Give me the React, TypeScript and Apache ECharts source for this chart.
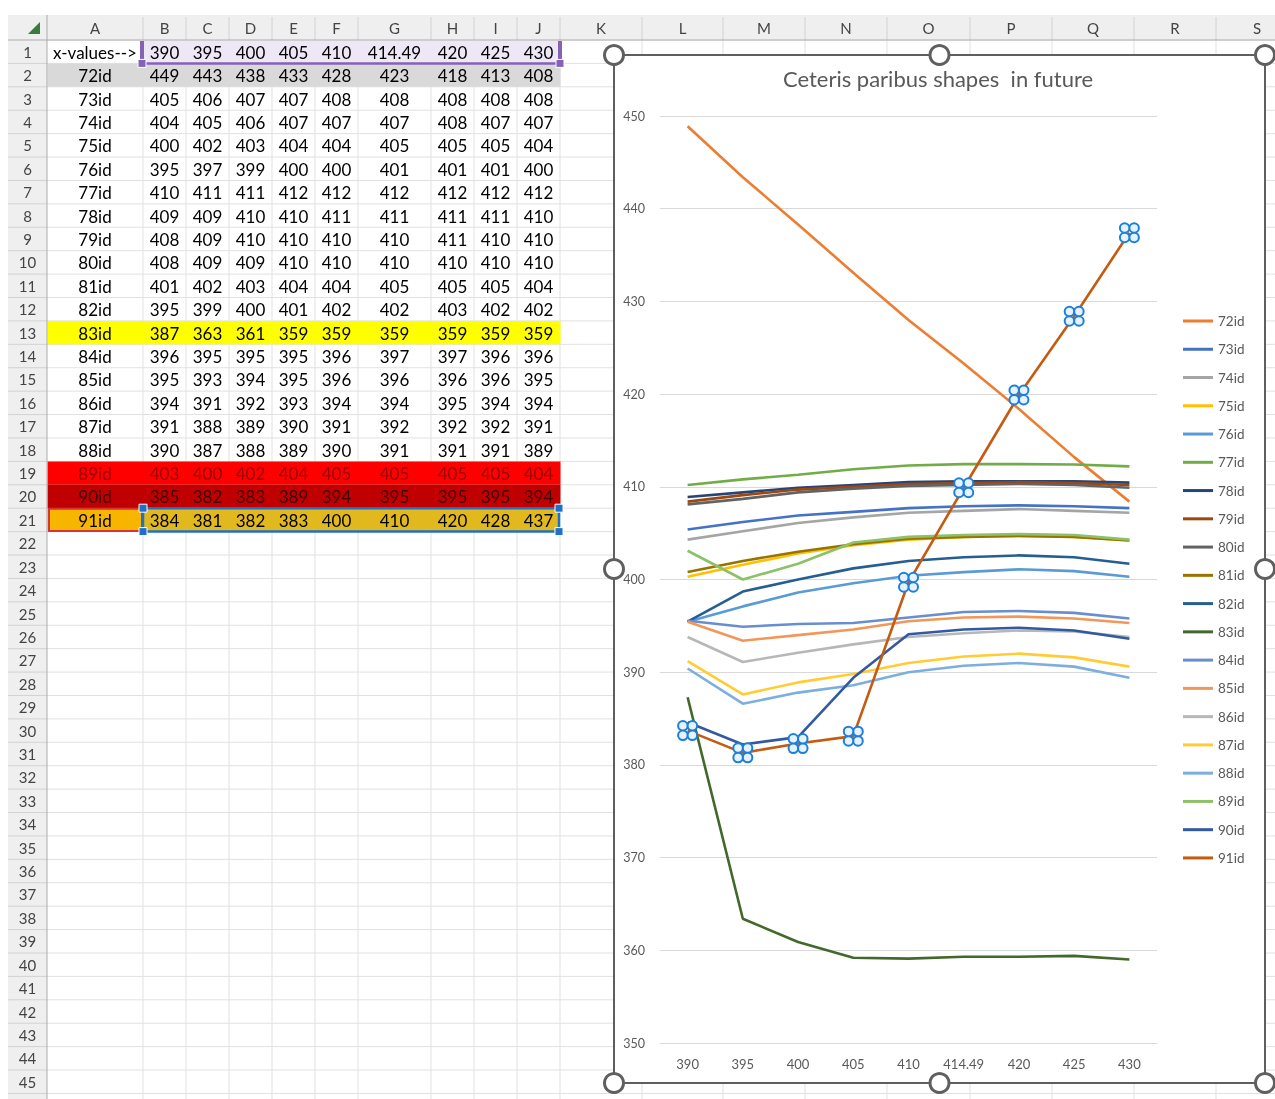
import React, { useEffect, useRef } from 'react';
import * as echarts from 'echarts';

// ---------- data ----------
const xValues = ['390', '395', '400', '405', '410', '414.49', '420', '425', '430'];
const seriesNames = ['72id', '73id', '74id', '75id', '76id', '77id', '78id', '79id', '80id', '81id',
  '82id', '83id', '84id', '85id', '86id', '87id', '88id', '89id', '90id', '91id'];

const v72 = [448.9, 443.4, 438.3, 433.1, 428.0, 423.3, 418.4, 413.2, 408.4];
const v73 = [405.4, 406.2, 406.9, 407.3, 407.7, 407.9, 408.0, 407.9, 407.7];
const v74 = [404.3, 405.2, 406.1, 406.7, 407.2, 407.4, 407.6, 407.4, 407.2];
const v75 = [400.3, 401.6, 402.8, 403.7, 404.3, 404.6, 404.7, 404.6, 404.2];
const v76 = [395.45, 397.1, 398.6, 399.6, 400.4, 400.8, 401.1, 400.9, 400.3];
const v77 = [410.2, 410.8, 411.3, 411.9, 412.3, 412.45, 412.45, 412.4, 412.2];
const v78 = [408.9, 409.4, 409.9, 410.2, 410.5, 410.6, 410.6, 410.6, 410.45];
const v79 = [408.4, 409.1, 409.7, 410.0, 410.3, 410.4, 410.5, 410.4, 410.2];
const v80 = [408.1, 408.7, 409.4, 409.8, 410.1, 410.2, 410.3, 410.2, 409.9];
const v81 = [400.8, 402.0, 403.0, 403.8, 404.4, 404.6, 404.7, 404.6, 404.2];
const v82 = [395.45, 398.7, 400.0, 401.2, 402.0, 402.4, 402.6, 402.4, 401.7];
const v83 = [387.3, 363.4, 360.9, 359.2, 359.1, 359.3, 359.3, 359.4, 359.0];
const v84 = [395.55, 394.9, 395.2, 395.3, 395.9, 396.5, 396.6, 396.4, 395.8];
const v85 = [395.45, 393.4, 394.0, 394.6, 395.5, 395.9, 396.0, 395.8, 395.3];
const v86 = [393.8, 391.1, 392.1, 393.0, 393.8, 394.2, 394.5, 394.4, 393.8];
const v87 = [391.2, 387.6, 388.9, 389.8, 391.0, 391.7, 392.0, 391.6, 390.6];
const v88 = [390.4, 386.6, 387.8, 388.6, 390.0, 390.7, 391.0, 390.6, 389.4];
const v89 = [403.1, 400.0, 401.7, 404.0, 404.6, 404.8, 404.9, 404.8, 404.3];
const v90 = [384.6, 382.2, 383.0, 389.4, 394.1, 394.6, 394.8, 394.5, 393.6];
const v91 = [383.7, 381.3, 382.3, 383.1, 399.7, 409.9, 419.9, 428.4, 437.4];

const seriesValues = [v72, v73, v74, v75, v76, v77, v78, v79, v80, v81,
  v82, v83, v84, v85, v86, v87, v88, v89, v90, v91];

const seriesColors = ['#ED7D31', '#4472C4', '#A5A5A5', '#FFC000', '#5B9BD5', '#70AD47', '#264478',
  '#9E480E', '#636363', '#997300', '#255E91', '#43682B', '#698ED0', '#F1975A', '#B7B7B7',
  '#FFCD33', '#7CAFDD', '#8CC168', '#335AA1', '#C55A11'];

const chartTitle = 'Ceteris paribus shapes  in future';
const headerLabel = 'x-values-->';
const colLetters = ['A', 'B', 'C', 'D', 'E', 'F', 'G', 'H', 'I', 'J', 'K', 'L', 'M', 'N', 'O', 'P', 'Q', 'R', 'S'];
const rowCount = 45;

// row fills of the sheet (row number -> colour), columns A..J
const rowFills: Record<number, string> = { 2: '#D9D9D9', 13: '#FFFF00', 19: '#FF0000', 20: '#C00000' };
const rowTextColors: Record<number, string> = { 19: '#960000', 20: '#3E0000' };

// ---------- layout ----------
const W = 1275;
const H = 1099;
const colEdges = [47, 143, 186, 229, 272, 315, 358, 431, 474, 517, 560, 642, 723, 805, 887, 970, 1052, 1134, 1216, 1298];
const ROW_H = 23.41;
const HEAD_TOP = 15;
const HEAD_BOT = 40;
const ROWHEAD_LEFT = 8;
const rowTop = (n: number) => HEAD_BOT + (n - 1) * ROW_H;
const CH = { x1: 614, y1: 55, x2: 1265, y2: 1083 };
const FONT = 'Lato, "Noto Sans", sans-serif';

const selSymbol =
  'path://M0,4.5A4.5,4.5,0,1,0,9,4.5A4.5,4.5,0,1,0,0,4.5Z' +
  'M9,4.5A4.5,4.5,0,1,0,18,4.5A4.5,4.5,0,1,0,9,4.5Z' +
  'M0,13.5A4.5,4.5,0,1,0,9,13.5A4.5,4.5,0,1,0,0,13.5Z' +
  'M9,13.5A4.5,4.5,0,1,0,18,13.5A4.5,4.5,0,1,0,9,13.5Z';

function buildGraphic() {
  const els: any[] = [];
  const Z = -1;
  const rect = (x: number, y: number, w: number, h: number, style: any, z2: number, z = Z) =>
    els.push({ type: 'rect', silent: true, z, z2, shape: { x, y, width: w, height: h }, style });
  const line = (x1: number, y1: number, x2: number, y2: number, stroke: string, lw: number, z2: number, z = Z) =>
    els.push({ type: 'line', silent: true, z, z2, shape: { x1, y1, x2, y2 }, style: { stroke, lineWidth: lw } });
  const text = (x: number, y: number, t: string, font: string, fill: string, z2: number) =>
    els.push({
      type: 'text', silent: true, z: Z, z2,
      style: { x, y, text: t, font, fill, textAlign: 'center', textVerticalAlign: 'middle', align: 'center', verticalAlign: 'middle' },
    });

  // page background
  rect(0, 0, W, H, { fill: '#FFFFFF' }, 0);
  // grid lines
  for (let n = 1; n <= rowCount + 1; n++) line(colEdges[0], rowTop(n), W, rowTop(n), '#E1E1E1', 1, 1);
  for (let i = 1; i < colEdges.length; i++) line(colEdges[i], HEAD_BOT, colEdges[i], H, '#E1E1E1', 1, 1);

  // fills
  const xA = colEdges[0], xB = colEdges[1], xK = colEdges[10];
  rect(xB, rowTop(1) + 0.5, xK - xB, ROW_H - 1, { fill: '#EDE7F6' }, 2);
  Object.keys(rowFills).forEach((k) => {
    const n = Number(k);
    rect(xA + 0.5, rowTop(n), xK - xA, ROW_H, { fill: rowFills[n] }, 2);
  });
  rect(xA + 0.5, rowTop(21), xB - xA, ROW_H, { fill: '#F7B500' }, 2);
  rect(xB, rowTop(21), xK - xB, ROW_H, { fill: '#E2B81F' }, 2);

  // headers
  rect(ROWHEAD_LEFT, HEAD_TOP, W - ROWHEAD_LEFT, HEAD_BOT - HEAD_TOP, { fill: '#EFEFEF' }, 3);
  rect(ROWHEAD_LEFT, HEAD_BOT, colEdges[0] - ROWHEAD_LEFT, H - HEAD_BOT, { fill: '#EFEFEF' }, 3);
  for (let i = 1; i < colEdges.length; i++) line(colEdges[i], HEAD_TOP + 2, colEdges[i], HEAD_BOT, '#D2D2D2', 1, 4);
  for (let n = 2; n <= rowCount + 1; n++) line(ROWHEAD_LEFT, rowTop(n), colEdges[0], rowTop(n), '#D2D2D2', 1, 4);
  line(ROWHEAD_LEFT, HEAD_BOT, W, HEAD_BOT, '#ABABAB', 1, 5);
  line(colEdges[0], HEAD_TOP, colEdges[0], H, '#ABABAB', 1, 5);
  els.push({ type: 'polygon', silent: true, z: Z, z2: 5, shape: { points: [[40, 22], [40, 34], [28, 34]] }, style: { fill: '#3B7A3E' } });
  colLetters.forEach((c, i) => text((colEdges[i] + colEdges[i + 1]) / 2, 27.5, c, `15px ${FONT}`, '#444444', 6));
  for (let n = 1; n <= rowCount; n++) text(27.5, rowTop(n) + ROW_H / 2, String(n), `15px ${FONT}`, '#444444', 6);

  // cell texts
  const cellFont = `17px ${FONT}`;
  const cx = (i: number) => (colEdges[i] + colEdges[i + 1]) / 2;
  const cy = (n: number) => rowTop(n) + ROW_H / 2 + 0.5;
  text(cx(0), cy(1), headerLabel, cellFont, '#000000', 6);
  xValues.forEach((v, j) => text(cx(j + 1), cy(1), v, cellFont, '#000000', 6));
  seriesNames.forEach((name, k) => {
    const n = k + 2;
    const col = rowTextColors[n] || '#000000';
    text(cx(0), cy(n), name, cellFont, col, 6);
    seriesValues[k].forEach((v, j) => text(cx(j + 1), cy(n), String(Math.round(v)), cellFont, col, 6));
  });

  // range highlights
  const purple = '#8462B5';
  line(xB, rowTop(2), xK, rowTop(2), purple, 2.5, 7);
  line(xB - 1, rowTop(1) + 1, xB - 1, rowTop(2), purple, 4, 7);
  line(xK, rowTop(1) + 1, xK, rowTop(2), purple, 4, 7);
  rect(xB - 5, rowTop(2) - 4, 8, 8, { fill: purple, stroke: '#FFFFFF', lineWidth: 1 }, 8);
  rect(xK - 4, rowTop(2) - 4, 8, 8, { fill: purple, stroke: '#FFFFFF', lineWidth: 1 }, 8);
  const red = '#D6333A';
  rect(xA + 2, rowTop(21) + 0.5, xB - xA - 3, ROW_H - 1, { fill: 'none', stroke: red, lineWidth: 2 }, 7);
  const blue = '#1F70C8';
  rect(xB, rowTop(21), xK - xB - 1, ROW_H, { fill: 'none', stroke: blue, lineWidth: 2.5 }, 7);
  [[xB, rowTop(21)], [xK - 1, rowTop(21)], [xB, rowTop(22)], [xK - 1, rowTop(22)]].forEach(([x, y]) =>
    rect(x - 4, y - 4, 8, 8, { fill: blue, stroke: '#FFFFFF', lineWidth: 1 }, 8));

  // chart area
  rect(CH.x1, CH.y1, CH.x2 - CH.x1, CH.y2 - CH.y1, { fill: '#FFFFFF' }, 20);
  rect(CH.x1, CH.y1, CH.x2 - CH.x1, CH.y2 - CH.y1, { fill: 'none', stroke: '#5F5F5F', lineWidth: 2 }, 1, 20);
  const mx = (CH.x1 + CH.x2) / 2;
  const my = (CH.y1 + CH.y2) / 2;
  [[CH.x1, CH.y1], [mx, CH.y1], [CH.x2, CH.y1], [CH.x1, my], [CH.x2, my], [CH.x1, CH.y2], [mx, CH.y2], [CH.x2, CH.y2]]
    .forEach(([x, y]) => els.push({
      type: 'circle', silent: true, z: 21, z2: 2, shape: { cx: x, cy: y, r: 9.5 },
      style: { fill: '#FFFFFF', stroke: '#5F5F5F', lineWidth: 3 },
    }));
  return els;
}

function buildOption() {
  const lines = seriesNames.map((name, i) => ({
    name,
    type: 'line',
    data: seriesValues[i],
    color: seriesColors[i],
    showSymbol: false,
    symbol: 'none',
    lineStyle: { color: seriesColors[i], width: 2.6 },
    itemStyle: { color: seriesColors[i] },
    z: 3,
  }));
  const markers = {
    name: 'selection',
    type: 'scatter',
    data: v91,
    symbol: selSymbol,
    symbolSize: 19,
    itemStyle: { color: '#E6F2FD', borderColor: '#1C7FDA', borderWidth: 2, opacity: 1 },
    z: 6,
  };
  return {
    animation: false,
    title: {
      text: chartTitle,
      left: 938,
      top: 67,
      padding: 0,
      textAlign: 'center',
      textStyle: { fontFamily: FONT, fontSize: 22, fontWeight: 'normal', color: '#595959' },
    },
    legend: {
      data: seriesNames,
      orient: 'vertical',
      left: 1183,
      top: 314,
      padding: 0,
      icon: 'rect',
      itemWidth: 30,
      itemHeight: 3,
      itemGap: 14.26,
      textStyle: { fontFamily: FONT, fontSize: 13.5, lineHeight: 14, color: '#595959', padding: [0, 0, 0, 0] },
    },
    grid: { left: 660, right: W - 1157, top: 116, bottom: H - 1043, containLabel: false },
    xAxis: {
      type: 'category',
      data: xValues,
      boundaryGap: true,
      axisLine: { show: true, lineStyle: { color: '#D9D9D9', width: 1 } },
      axisTick: { show: false },
      axisLabel: { color: '#595959', fontFamily: FONT, fontSize: 13, margin: 14, interval: 0 },
    },
    yAxis: {
      type: 'value',
      min: 350,
      max: 450,
      interval: 10,
      axisLine: { show: false },
      axisTick: { show: false },
      splitLine: { lineStyle: { color: '#D9D9D9', width: 1 } },
      axisLabel: { color: '#595959', fontFamily: FONT, fontSize: 12.5, margin: 15 },
    },
    graphic: { elements: buildGraphic() },
    series: [...lines, markers],
  };
}

export default function App() {
  const ref = useRef<HTMLDivElement>(null);
  useEffect(() => {
    document.body.style.margin = '0';
    const chart = echarts.init(ref.current as HTMLDivElement, null, { renderer: 'svg', width: W, height: H });
    chart.setOption(buildOption() as any);
    return () => chart.dispose();
  }, []);
  return <div ref={ref} style={{ position: 'fixed', left: 0, top: 0, width: W, height: H }} />;
}
